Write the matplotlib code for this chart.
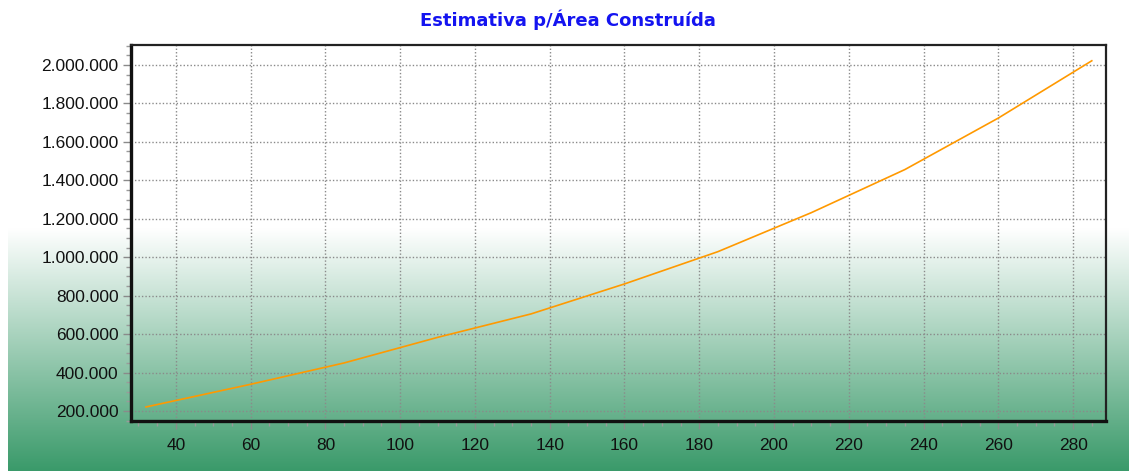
import numpy as np
import matplotlib
matplotlib.use("Agg")
import matplotlib.pyplot as plt
from matplotlib.ticker import FuncFormatter, MultipleLocator
from matplotlib.colors import LinearSegmentedColormap

title = "Estimativa p/Área Construída"
area = [32, 60, 85, 110, 135, 160, 185, 210, 235, 260, 285]
valor = [221000, 339000, 450000, 583000, 705000, 861000, 1029000, 1232000, 1456000, 1724000, 2022000]
x_ticks = [40, 60, 80, 100, 120, 140, 160, 180, 200, 220, 240, 260, 280]
y_ticks = [200000, 400000, 600000, 800000, 1000000, 1200000, 1400000, 1600000, 1800000, 2000000]

plt.rcParams['font.family'] = ['Liberation Sans', 'DejaVu Sans']

W, H = 1129, 471
fig = plt.figure(figsize=(W / 100, H / 100), dpi=100)
fig.patch.set_facecolor('white')

# background gradient (white -> green) over the lower part of the figure
bg = fig.add_axes([8 / W, 0, 1 - 8 / W, (H - 228) / H], zorder=0)
cmap = LinearSegmentedColormap.from_list('g', ['#ffffff', '#3a9a6a'], N=256)
grad = np.linspace(0, 1, 256).reshape(-1, 1)
bg.imshow(grad, aspect='auto', cmap=cmap, extent=[0, 1, 0, 1], origin='upper')
bg.set_axis_off()

ax = fig.add_axes([131 / W, 1 - 421 / H, (1106 - 131) / W, (421 - 45) / H], zorder=1)
ax.patch.set_alpha(0)

ax.plot(area, valor, color='#ff9900', lw=1.2, zorder=3)

ax.set_xlim(28, 288.8)
ax.set_ylim(148000, 2104000)
ax.set_xticks(x_ticks)
ax.set_yticks(y_ticks)
ax.xaxis.set_minor_locator(MultipleLocator(5))
ax.yaxis.set_minor_locator(MultipleLocator(50000))
ax.yaxis.set_major_formatter(FuncFormatter(lambda v, p: f"{int(round(v)):,}".replace(',', '.')))

ax.grid(True, which='major', color='#8a8a8a', linestyle=(0, (1, 1.5)), lw=1.0)
for side in ['left', 'bottom']:
    ax.spines[side].set_linewidth(2.4)
    ax.spines[side].set_color('#111111')
for side in ['top', 'right']:
    ax.spines[side].set_linewidth(1.6)
    ax.spines[side].set_color('#222222')

ax.tick_params(axis='both', which='major', colors='#8a8a8a', labelcolor='#111111',
               labelsize=12.5, length=6, width=1)
ax.tick_params(axis='both', which='minor', colors='#9a9a9a', length=3.5, width=1)
ax.tick_params(axis='x', which='major', pad=6)
ax.tick_params(axis='y', which='major', pad=3)

fig.text(0.503, 1 - 20 / H, title, ha='center', va='center', color='#1414f0',
         fontsize=13, fontweight='bold', family=['DejaVu Sans'])

fig.savefig('out.png', dpi=100)
